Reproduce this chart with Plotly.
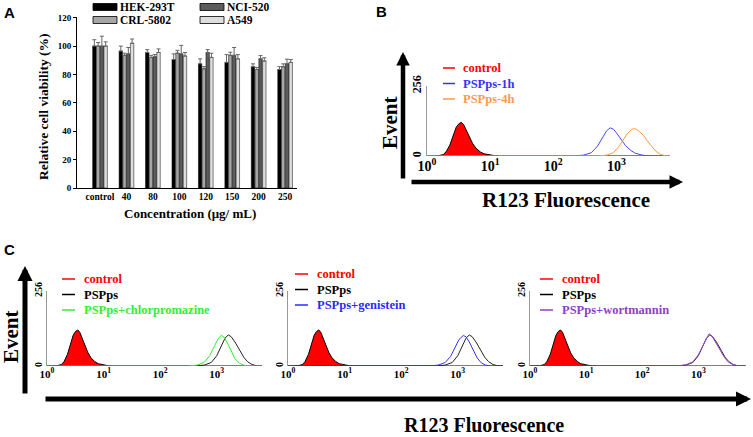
import plotly.graph_objects as go

W, H = 753, 437
def fx(p): return p / W
def fy(p): return 1 - p / H

SERIF = "Liberation Serif, Times New Roman, serif"
SANS = "Liberation Sans, Arial, sans-serif"

# ---------------- Panel A data ----------------
categories = ["control", "40", "80", "100", "120", "150", "200", "250"]
hek = [100, 96.5, 95.5, 90.5, 87.5, 88.5, 85.5, 83.5]
hek_err = [4.5, 3.5, 2, 4, 3.5, 5.5, 2, 2]
crl = [100, 93.5, 92, 95, 84, 93.5, 83.5, 85.5]
crl_err = [2.5, 1.5, 1.5, 2, 1.5, 2.2, 1.5, 2]
nci = [100, 94.5, 92.5, 94.5, 95.5, 93.5, 91, 87.5]
nci_err = [7, 4.5, 1.5, 6, 2, 5.5, 2.3, 3.3]
a549 = [100, 102, 95.5, 93, 92, 91, 89.5, 88.5]
a549_err = [3, 3, 2.5, 2.5, 3, 3, 2.3, 2]
series_names = ["HEK-293T", "CRL-5802", "NCI-520", "A549"]
series_colors = ["#000000", "#a6a6a6", "#5c5c5c", "#dedede"]
y_ticks_a = [0, 20, 40, 60, 80, 100, 120]

# ---------------- Histogram data (R123 fluorescence vs events) ----------------
ctrl_fl = [1, 1.5, 1.8, 2.0, 2.3, 2.6, 2.9, 3.2, 3.5, 3.8, 4.2, 4.7, 5.3, 6.0, 7.0, 8.0, 10, 12, 15, 7000]
ctrl_ct = [0, 1, 5, 15, 40, 75, 105, 118, 123, 115, 95, 68, 45, 28, 15, 8, 3, 1, 0, 0]

b1h_fl = [1, 200, 300, 400, 500, 600, 700, 800, 900, 1000, 1200, 1400, 1700, 2000, 2500, 3000, 4000, 7000]
b1h_ct = [0, 0, 3, 12, 35, 65, 92, 103, 98, 85, 60, 38, 20, 10, 4, 1, 0, 0]
b4h_fl = [1, 500, 700, 900, 1100, 1300, 1500, 1750, 2000, 2300, 2700, 3100, 3600, 4200, 5000, 6000, 7000]
b4h_ct = [0, 0, 3, 12, 35, 60, 82, 98, 100, 90, 75, 55, 35, 18, 6, 1, 0]

psp_fl = [1, 400, 600, 800, 1000, 1200, 1400, 1600, 1800, 2100, 2500, 3000, 3500, 4200, 5000, 7000]
psp_ct = [0, 0, 3, 12, 35, 65, 95, 106, 100, 82, 55, 30, 15, 5, 1, 0]
chl_fl = [1, 300, 450, 600, 750, 900, 1050, 1200, 1350, 1550, 1800, 2100, 2500, 3000, 3600, 7000]
chl_ct = [0, 0, 3, 12, 35, 65, 92, 105, 98, 78, 50, 25, 10, 3, 0, 0]
gen_fl = [1, 300, 450, 600, 750, 900, 1050, 1250, 1400, 1600, 1850, 2200, 2600, 3100, 3800, 7000]
gen_ct = [0, 0, 3, 12, 33, 62, 90, 104, 100, 82, 55, 28, 11, 3, 0, 0]
wor_fl = [1, 400, 600, 800, 1000, 1200, 1400, 1550, 1750, 2000, 2400, 2900, 3400, 4100, 5000, 7000]
wor_ct = [0, 0, 4, 14, 38, 70, 98, 110, 102, 84, 56, 30, 14, 5, 1, 0]

log_tickvals = [1, 10, 100, 1000]
log_ticktext = ["10<sup>0</sup>", "10<sup>1</sup>", "10<sup>2</sup>", "10<sup>3</sup>"]

fig = go.Figure()

# ---- Panel A bars
vals = [hek, crl, nci, a549]
errs = [hek_err, crl_err, nci_err, a549_err]
for name, v, e, c in zip(series_names, vals, errs, series_colors):
    fig.add_trace(go.Bar(
        x=categories, y=v, name=name, showlegend=False,
        marker=dict(color=c, line=dict(color="#000000", width=0.5)),
        error_y=dict(type="data", array=e, arrayminus=[0] * len(e), symmetric=False,
                     color="#666666", thickness=1, width=2),
        xaxis="x", yaxis="y"))

# ---- Histogram panels
def hist(xa, ya, fl, ct, color, filled=False):
    fig.add_trace(go.Scatter(
        x=fl, y=ct, mode="lines", showlegend=False,
        line=dict(color=color, width=1),
        fill="tozeroy" if filled else None,
        fillcolor="#ff0000" if filled else None,
        xaxis=xa, yaxis=ya))

# B
hist("x2", "y2", ctrl_fl, ctrl_ct, "#000000", True)
hist("x2", "y2", b1h_fl, b1h_ct, "#4747ff")
hist("x2", "y2", b4h_fl, b4h_ct, "#ff9a40")
# C1
hist("x3", "y3", ctrl_fl, ctrl_ct, "#000000", True)
hist("x3", "y3", psp_fl, psp_ct, "#222222")
hist("x3", "y3", chl_fl, chl_ct, "#33ee33")
# C2
hist("x4", "y4", ctrl_fl, ctrl_ct, "#000000", True)
hist("x4", "y4", psp_fl, psp_ct, "#222222")
hist("x4", "y4", gen_fl, gen_ct, "#3333ff")
# C3
hist("x5", "y5", ctrl_fl, ctrl_ct, "#000000", True)
hist("x5", "y5", psp_fl, psp_ct, "#222222")
hist("x5", "y5", wor_fl, wor_ct, "#9b3fcf")

layout = dict(
    width=W, height=H, margin=dict(l=0, r=0, t=0, b=0, autoexpand=False),
    paper_bgcolor="white", plot_bgcolor="rgba(0,0,0,0)",
    barmode="group", bargap=0.43, bargroupgap=0.1, showlegend=False,
    xaxis=dict(domain=[fx(77), fx(297)], anchor="y", type="category", automargin=False,
               range=[-0.87, 7.45], showline=True, linecolor="black", linewidth=1,
               ticks="", tickfont=dict(family=SERIF, size=9.5, color="black", weight="bold"),
               showgrid=False, zeroline=False),
    yaxis=dict(domain=[fy(188), fy(17)], anchor="x", range=[0, 120.5], automargin=False,
               tickvals=y_ticks_a, showline=True, linecolor="black", linewidth=1,
               ticks="outside", ticklen=3, tickcolor="black",
               tickfont=dict(family=SERIF, size=9, color="black", weight="bold"),
               showgrid=False, zeroline=False),
)

def hist_axes(n, x0, x1, y0, y1, xr, tsize, ysize):
    layout["xaxis%d" % n] = dict(
        domain=[fx(x0), fx(x1)], anchor="y%d" % n, type="log", range=[0, xr],
        tickvals=log_tickvals, ticktext=log_ticktext, ticks="", automargin=False,
        tickfont=dict(family=SERIF, size=tsize, color="black", weight="bold"),
        showline=False, showgrid=False, zeroline=False)
    layout["yaxis%d" % n] = dict(
        domain=[fy(y1), fy(y0)], anchor="x%d" % n, range=[0, 256],
        tickvals=[0, 256], tickangle=-90, ticks="", automargin=False,
        tickfont=dict(family=SERIF, size=ysize, color="black", weight="bold"),
        showline=True, linecolor="#999999", linewidth=1,
        showgrid=False, zeroline=False)

hist_axes(2, 427, 670, 86, 156, 3.85, 14, 12)
hist_axes(3, 47, 262, 291, 366, 3.8, 11, 10)
hist_axes(4, 288, 503, 291, 366, 3.8, 11, 10)
hist_axes(5, 530, 746, 291, 366, 3.85, 11, 10)

fig.update_layout(**layout)

shapes = []
annos = []

def text(x, y, s, size, color="black", family=SERIF, angle=0, xanchor="center", bold=True):
    annos.append(dict(x=fx(x), y=fy(y), xref="paper", yref="paper", text=s,
                      showarrow=False, textangle=angle, xanchor=xanchor, yanchor="middle",
                      font=dict(family=family, size=size, color=color,
                                weight="bold" if bold else "normal")))

def seg(x0, y0, x1, y1, color, width):
    shapes.append(dict(type="line", xref="paper", yref="paper",
                       x0=fx(x0), y0=fy(y0), x1=fx(x1), y1=fy(y1),
                       line=dict(color=color, width=width)))

def arrow(tx, ty, sx, sy, width):
    # tip at (tx, ty); tail offset given in pixels (y grows downward)
    annos.append(dict(x=fx(tx), y=fy(ty), ax=sx - tx, ay=sy - ty,
                      xref="paper", yref="paper", axref="pixel", ayref="pixel",
                      text="", showarrow=True, arrowhead=2, arrowsize=0.6,
                      arrowwidth=width, arrowcolor="black", standoff=0, startstandoff=0))

# Panel labels
text(9, 12, "A", 15, family=SANS)
text(381, 11, "B", 15, family=SANS)
text(9, 249, "C", 15, family=SANS)

# Panel A titles
text(43, 107, "Relative cell viability (%)", 13.5, angle=-90)
text(190, 213, "Concentration (μg/ mL)", 13)

# Panel A legend
leg_a = [(93, 7, 0), (200, 7, 2), (93, 20, 1), (200, 20, 3)]
for lx, ly, i in leg_a:
    shapes.append(dict(type="rect", xref="paper", yref="paper",
                       x0=fx(lx), x1=fx(lx + 24), y0=fy(ly - 3.5), y1=fy(ly + 3.5),
                       fillcolor=series_colors[i], line=dict(color="black", width=0.8)))
    text(lx + 25, ly, series_names[i], 11.5, xanchor="left")

# Panel B arrows & titles
arrow(403, 52, 403, 180, 4.5)
arrow(683, 182, 410, 182, 4.5)
text(390, 123, "Event", 21, angle=-90)
text(566, 200, "R123 Fluorescence", 21)

# Panel B legend
for i, (lab, col) in enumerate([("control", "#ff0000"), ("PSPps-1h", "#3333ff"),
                                 ("PSPps-4h", "#ff9a4d")]):
    yy = 68 + i * 15.5
    seg(443, yy, 455, yy, col, 1.5)
    text(461, yy, lab, 12.5, color=col, xanchor="left")

# Panel C arrows & titles
arrow(25, 266, 25, 395, 5)
arrow(751, 399, 44, 399, 5)
text(11, 337, "Event", 21, angle=-90)
text(484, 425, "R123 Fluorescence", 20)

# Panel C legends
c_legs = [
    (62, 279, [("control", "#ff0000"), ("PSPps", "#000000"), ("PSPps+chlorpromazine", "#33ee33")]),
    (295, 274, [("control", "#ff0000"), ("PSPps", "#000000"), ("PSPps+genistein", "#2b2bff")]),
    (540, 279, [("control", "#ff0000"), ("PSPps", "#000000"), ("PSPps+wortmannin", "#8e3fbf")]),
]
for lx, ly, items in c_legs:
    for i, (lab, col) in enumerate(items):
        yy = ly + i * 15.5
        seg(lx, yy, lx + 13, yy, col, 1.5)
        text(lx + 20, yy, lab, 12.5, color=col, xanchor="left")

fig.update_layout(shapes=shapes, annotations=annos)
fig.write_html("out.html", config={"displayModeBar": False},
               post_script="document.body.style.margin='0px';document.body.style.padding='0px';")
